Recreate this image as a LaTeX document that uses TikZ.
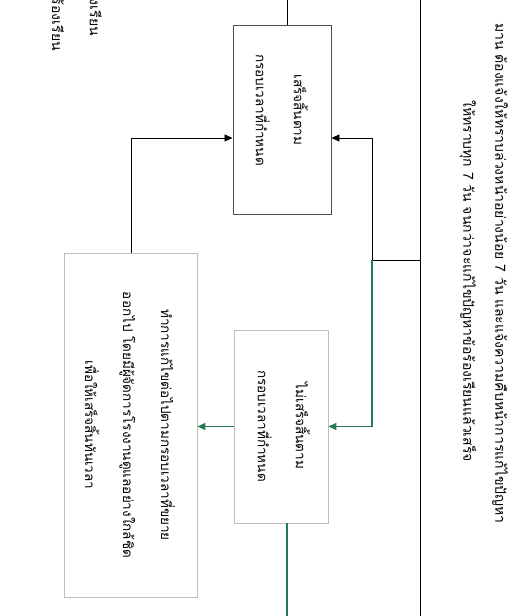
\documentclass[tikz,border=0pt]{standalone}
\usepackage{fontspec}
\newfontfamily\thaifont[Script=Thai]{Loma}
\usetikzlibrary{arrows.meta}
\definecolor{flowgreen}{RGB}{38,122,82}
\definecolor{boxgray}{RGB}{190,190,190}
\definecolor{boxdark}{RGB}{80,80,80}
\tikzset{
  boxA/.style={draw=boxdark, line width=0.9pt, fill=white},
  boxL/.style={draw=boxgray, line width=0.9pt, fill=white},
  txt/.style={font=\thaifont\fontsize{13.5}{38}\selectfont, align=center, inner sep=0pt, rotate=-90},
  toptxt/.style={font=\thaifont\fontsize{14}{30}\selectfont, inner sep=0pt, rotate=-90},
  conn/.style={draw=black, line width=0.8pt},
  gconn/.style={draw=flowgreen, line width=1.4pt},
  tip/.style={-{Triangle[length=8pt,width=7pt]}}
}
\begin{document}
\begin{tikzpicture}[x=1pt,y=-1pt]
\fill[white] (0,0) rectangle (509,616);
\useasboundingbox (0,0) rectangle (509,616);

% boxes
\node[boxA, minimum width=98pt, minimum height=189pt] (A) at (282,119.5) {};
\node[boxL, minimum width=94pt, minimum height=193pt] (B) at (281,426.5) {};
\node[boxL, minimum width=133pt, minimum height=344pt] (C) at (130.5,425) {};

% box texts
\node[txt] (At) at (282,110) {เสร็จสิ้นตาม\\กรอบเวลาที่กำหนด};
\node[txt] (Bt) at (284,426) {ไม่เสร็จสิ้นตาม\\กรอบเวลาที่กำหนด};
\node[txt] (Ct) at (130,425) {ทำการแก้ไขต่อไปตามกรอบเวลาที่ขยาย\\ออกไป โดยมีผู้จัดการโรงงานดูแลอย่างใกล้ชิด\\เพื่อให้เสร็จสิ้นทันเวลา};

% top texts
\node[toptxt, anchor=west] (t1) at (500,23) {มาน ต้องแจ้งให้ทราบล่วงหน้าอย่างน้อย 7 วัน และแจ้งความคืบหน้าการแก้ไขปัญหา};
\node[toptxt, anchor=west] (t2) at (468,100) {ให้ทราบทุก 7 วัน จนกว่าจะแก้ไขปัญหาข้อร้องเรียนแล้วเสร็จ};

% cut-off texts at the left
\node[toptxt, anchor=east] (l1) at (94,36) {ผู้ร้องเรียน};
\node[toptxt, anchor=east] (l2) at (58,51) {ข้อร้องเรียน};

% coordinates
\coordinate (vt) at (420,0);
\coordinate (vb) at (420,616);
\coordinate (j) at (420,260);
\coordinate (s) at (372,260);
\coordinate (k1) at (372,138);
\coordinate (k2) at (372,426.5);
\coordinate (a0) at (287,0);
\coordinate (b0) at (287,616);
\coordinate (c0) at (131,0);

% connectors
\draw[conn] (vt) -- (vb);
\draw[conn] (j) -- (s);
\draw[conn, tip] (s) -- (k1) -- (k1 -| A.east);
\draw[gconn, tip] (s) -- (k2) -- (k2 -| B.east);
\draw[conn, tip] (C.north -| c0) -- (c0 |- k1) -- (k1 -| A.west);
\draw[gconn, tip] (B.west) -- (B.west -| C.east);
\draw[conn] (A.north -| a0) -- (a0);
\draw[gconn] (B.south -| b0) -- (b0);
\end{tikzpicture}
\end{document}
